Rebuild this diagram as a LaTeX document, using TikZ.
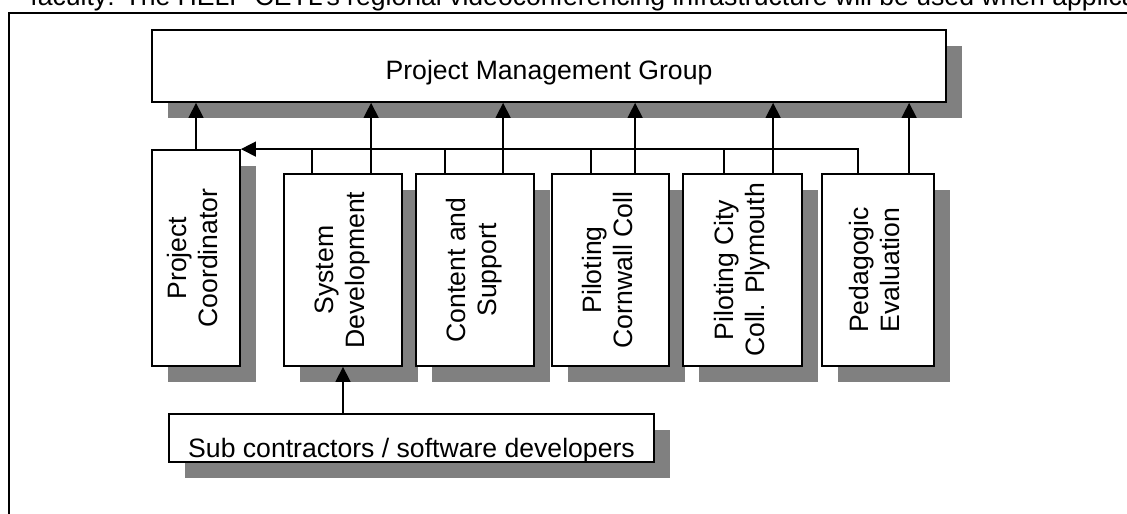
\documentclass[tikz,border=0pt]{standalone}
\usepackage{graphicx}
\usepackage{fontspec}
\setmainfont{Liberation Sans}
\usetikzlibrary{arrows.meta,shadows}

\begin{document}
\begin{tikzpicture}[
        %Environment Config
        x=0.5pt, y=-0.5pt,
        font=\fontsize{13.3}{15.5}\selectfont,
        Box/.style={%Style for the shadowed boxes
            draw,
            fill=white,
            line width=0.9pt,
            inner sep=0pt,
            align=center,
            drop shadow={shadow xshift=8pt, shadow yshift=-8pt, opacity=1, fill=black!50}
        },
        MyArrow/.style={%Style for the arrows
            -{Triangle[length=7.5pt,width=7.5pt]},
            line width=0.7pt
        },
        Link/.style={%Style for the plain lines
            line width=0.7pt
        },
        Frame/.style={%Style for the page frame
            line width=1.1pt
        }
    ]
    \def\VText#1{\rotatebox{90}{\begin{tabular}{@{}c@{}}#1\end{tabular}}}% rotated box label

    \path[use as bounding box, clip] (0,0) rectangle (1127,513);

    %%%%%%%%%%%%%%%%%%%%%%%%%%%%%%%%%%%%%%%%%%%%%%%%%%%%%%%%%%%%%%%%%%%%%%%%%%%%
    % PAGE
    %%%%%%%%%%%%%%%%%%%%%%%%%%%%%%%%%%%%%%%%%%%%%%%%%%%%%%%%%%%%%%%%%%%%%%%%%%%%
    \node[anchor=base west, inner sep=0pt] (intro) at (30,6) {faculty: The HELP CETL's regional videoconferencing infrastructure will be used when applica};
    \coordinate (FTL) at (9,13.3);
    \draw[Frame] (1140,13.3) -- (FTL) -- (9,520);

    %%%%%%%%%%%%%%%%%%%%%%%%%%%%%%%%%%%%%%%%%%%%%%%%%%%%%%%%%%%%%%%%%%%%%%%%%%%%
    % BOXES
    %%%%%%%%%%%%%%%%%%%%%%%%%%%%%%%%%%%%%%%%%%%%%%%%%%%%%%%%%%%%%%%%%%%%%%%%%%%%
    % management group
    \node[Box, minimum width=397pt, minimum height=36pt, text height=14pt, text depth=0pt] (PMG) at (549,66) {Project Management Group};

    % work packages
    \node[Box, minimum width=44pt, minimum height=108pt] (PC) at (196,258) {\VText{Project\\Coordinator}};
    \node[Box, minimum width=59pt, minimum height=96pt] (SD) at (343,270) {\VText{System\\Development}};
    \node[Box, minimum width=59pt, minimum height=96pt] (CS) at (475,270) {\VText{Content and\\Support}};
    \node[Box, minimum width=58.5pt, minimum height=96pt] (CC) at (610.5,270) {\VText{Piloting\\Cornwall Coll}};
    \node[Box, minimum width=59.5pt, minimum height=96pt] (CP) at (742.5,270) {\VText{Piloting City\\Coll. Plymouth}};
    \node[Box, minimum width=56pt, minimum height=96pt] (PE) at (878,270) {\VText{Pedagogic\\Evaluation}};

    % sub contractors
    \node[Box, minimum width=242.5pt, minimum height=24pt, text height=19pt, text depth=0pt] (SUB) at (411.5,438) {Sub contractors / software developers};

    %%%%%%%%%%%%%%%%%%%%%%%%%%%%%%%%%%%%%%%%%%%%%%%%%%%%%%%%%%%%%%%%%%%%%%%%%%%%
    % LINKS
    %%%%%%%%%%%%%%%%%%%%%%%%%%%%%%%%%%%%%%%%%%%%%%%%%%%%%%%%%%%%%%%%%%%%%%%%%%%%
    \draw[MyArrow] (PC.north) -- (PC.north |- PMG.south);
    \foreach \n/\s/\u in {SD/14.5/44, CS/15/44, CC/20/42, CP/21/45.5, PE/18.5/44}{
        \coordinate (\n-stub) at ([xshift=\s pt]\n.north west);
        \coordinate (\n-up) at ([xshift=\u pt]\n.north west);
        \draw[MyArrow] (\n-up) -- (\n-up |- PMG.south);
    }
    % reporting line to the coordinator
    \draw[MyArrow] (PE-stub) |- (PC.north east);
    \foreach \n in {SD,CS,CC,CP}{
        \draw[Link] (\n-stub) -- (\n-stub |- PC.north);
    }
    \draw[MyArrow] (SUB.north -| SD.south) -- (SD.south);
\end{tikzpicture}
\end{document}
